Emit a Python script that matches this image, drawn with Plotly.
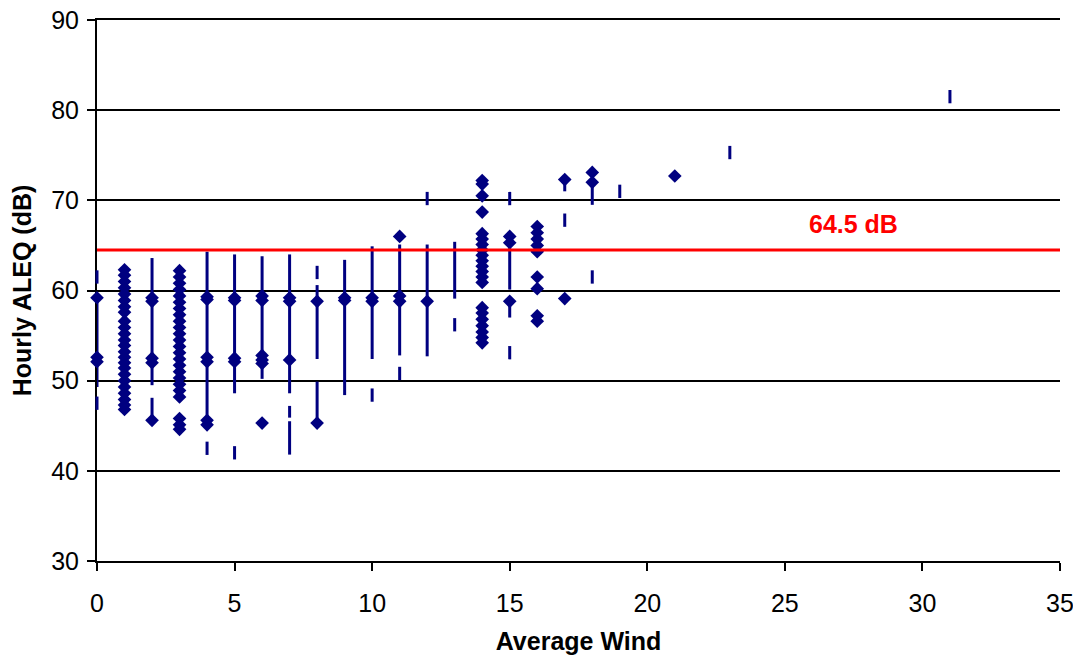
import plotly.graph_objects as go

# ---- data ----
diamond_wind = (
    [0, 0, 0]
    + [1] * 24
    + [2] * 5
    + [3] * 24
    + [4] * 6
    + [5] * 4
    + [6] * 6
    + [7] * 3
    + [8] * 2
    + [9] * 2
    + [10] * 2
    + [11] * 3
    + [12]
    + [14] * 21
    + [15] * 3
    + [16] * 9
    + [17] * 2
    + [18] * 2
    + [21]
)
diamond_aleq = (
    [59.2, 52.6, 52.1]
    + [62.3, 61.7, 61.0, 60.3, 59.6, 58.9, 58.2, 57.6, 56.6, 55.9, 55.2, 54.5,
       53.9, 53.2, 52.6, 52.0, 51.4, 50.7, 50.0, 49.3, 48.6, 47.9, 47.3, 46.8]
    + [59.2, 58.8, 52.5, 52.0, 45.6]
    + [62.2, 61.5, 60.8, 60.1, 59.4, 58.7, 58.0, 57.3, 56.6, 55.9, 55.2, 54.5,
       53.8, 53.1, 52.4, 51.7, 51.0, 50.3, 49.6, 48.9, 48.2, 45.8, 45.1, 44.6]
    + [59.3, 59.0, 52.6, 52.1, 45.6, 45.1]
    + [59.2, 58.9, 52.5, 52.1]
    + [59.4, 58.9, 52.8, 52.3, 51.9, 45.3]
    + [59.2, 58.8, 52.3]
    + [58.8, 45.3]
    + [59.2, 58.9]
    + [59.2, 58.8]
    + [66.0, 59.4, 58.8]
    + [58.8]
    + [72.2, 71.8, 70.5, 68.7, 66.3, 65.7, 65.1, 64.5, 63.9, 63.3, 62.7, 62.1,
       61.5, 60.9, 58.1, 57.5, 56.8, 56.1, 55.4, 54.8, 54.2]
    + [66.0, 65.3, 58.8]
    + [67.1, 66.4, 65.7, 65.0, 64.3, 61.5, 60.2, 57.2, 56.6]
    + [72.3, 59.1]
    + [73.1, 72.0]
    + [72.7]
)

dash_wind = [0, 0, 4, 5, 8, 10, 11, 12, 13, 15, 15, 17, 18, 19, 23, 31]
dash_aleq = [61.5, 47.5, 42.5, 42.0, 62.0, 48.4, 50.8, 70.2, 56.2, 70.2, 53.1,
             67.8, 61.5, 71.0, 75.3, 81.5]

range_wind = [0, 2, 2, 4, 5, 6, 7, 7, 7, 8, 8, 9, 10, 11, 12, 13, 15, 15, 17, 18]
range_low = [49.3, 49.5, 45.6, 45.3, 48.6, 50.2, 48.6, 45.9, 41.8, 52.4, 45.3,
             48.4, 52.4, 52.8, 52.7, 59.1, 60.1, 57.0, 71.0, 69.5]
range_high = [59.2, 63.6, 48.1, 64.3, 64.0, 63.8, 64.0, 47.2, 45.5, 60.6, 49.9,
              63.4, 64.9, 65.1, 65.1, 65.4, 65.3, 58.8, 72.3, 72.0]

limit_db = 64.5
limit_label = "64.5 dB"
x_range = [0, 35]
y_range = [30, 90]

NAVY = "#000080"
FONT = "Liberation Sans, Arial, sans-serif"
FS = 25

# ---- build segments for the ranges ----
seg_x, seg_y = [], []
for w, lo, hi in zip(range_wind, range_low, range_high):
    seg_x += [w, w, None]
    seg_y += [lo, hi, None]

fig = go.Figure()
fig.add_trace(go.Scatter(
    x=seg_x, y=seg_y, mode="lines",
    line=dict(color=NAVY, width=3),
    cliponaxis=False, showlegend=False, hoverinfo="skip",
))
fig.add_trace(go.Scatter(
    x=dash_wind, y=dash_aleq, mode="markers",
    marker=dict(symbol="line-ns", size=9.5, color=NAVY,
                line=dict(color=NAVY, width=3)),
    cliponaxis=False, showlegend=False,
))
fig.add_trace(go.Scatter(
    x=diamond_wind, y=diamond_aleq, mode="markers",
    marker=dict(symbol="diamond", size=10.5, color=NAVY,
                line=dict(width=0)),
    cliponaxis=False, showlegend=False,
))
fig.add_trace(go.Scatter(
    x=x_range, y=[limit_db, limit_db], mode="lines",
    line=dict(color="#FF0000", width=3),
    cliponaxis=False, showlegend=False, hoverinfo="skip",
))

fig.add_annotation(
    x=27.5, y=67.4, text=f"<b>{limit_label}</b>", showarrow=False,
    font=dict(family=FONT, size=FS, color="#FF0000"),
)

# the page body has an 8px default margin: figure is sized/offset to suit
fig.update_layout(
    width=1065, height=647,
    margin=dict(l=89, r=13, t=12, b=94),
    paper_bgcolor="white", plot_bgcolor="white",
    font=dict(family=FONT, size=FS, color="black"),
    showlegend=False,
    xaxis=dict(
        range=x_range, dtick=5, tick0=0,
        showgrid=False, zeroline=False, automargin=False,
        showline=True, linecolor="black", linewidth=2, mirror=True,
        ticks="outside", ticklen=8, tickwidth=2, tickcolor="black",
        ticklabelstandoff=11, ticklabeloverflow="allow",
        layer="below traces",
        title=dict(text="<b>Average Wind</b>", standoff=19,
                   font=dict(family=FONT, size=FS)),
    ),
    yaxis=dict(
        range=y_range, dtick=10, tick0=30,
        showgrid=True, gridcolor="black", gridwidth=2,
        zeroline=False, automargin=False,
        showline=True, linecolor="black", linewidth=2,
        ticks="outside", ticklen=8, tickwidth=2, tickcolor="black",
        ticklabelstandoff=3, ticklabeloverflow="allow",
        layer="below traces",
        title=dict(text="<b>Hourly ALEQ (dB)</b>", standoff=12,
                   font=dict(family=FONT, size=FS)),
    ),
)

fig.write_html("out.html")
